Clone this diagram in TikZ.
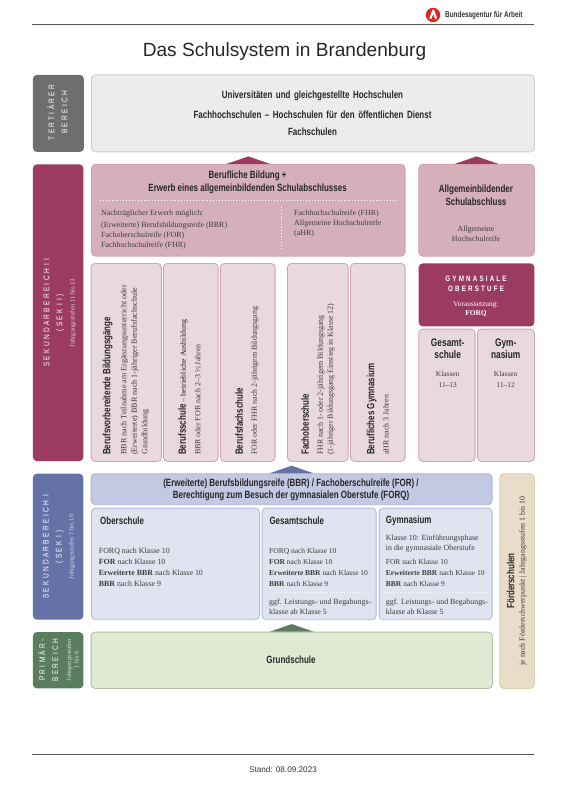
\documentclass[tikz,border=0pt]{standalone}
\usepackage{fontspec}
\usepackage{xcolor}
\setmainfont{Liberation Serif}
\newfontfamily\titlefont{Liberation Sans}
\newfontfamily\headfont[FakeStretch=0.76]{Liberation Sans}
\newfontfamily\spacedfont[FakeStretch=0.8,LetterSpace=28]{Liberation Sans}
\definecolor{baline}{RGB}{85,85,85}
\definecolor{bared}{RGB}{218,40,30}
\definecolor{greydark}{RGB}{110,110,110}
\definecolor{greylight}{RGB}{236,236,236}
\definecolor{greyedge}{RGB}{205,205,205}
\definecolor{rosedark}{RGB}{156,59,96}
\definecolor{rosemid}{RGB}{213,176,186}
\definecolor{roselight}{RGB}{234,216,223}
\definecolor{roseedge}{RGB}{214,160,178}
\definecolor{bluedark}{RGB}{100,114,168}
\definecolor{bluemid}{RGB}{195,201,226}
\definecolor{bluelight}{RGB}{224,227,240}
\definecolor{blueedge}{RGB}{176,184,216}
\definecolor{greendark}{RGB}{90,125,95}
\definecolor{greenlight}{RGB}{224,234,211}
\definecolor{greenedge}{RGB}{170,192,160}
\definecolor{sandlight}{RGB}{233,220,201}
\definecolor{sandedge}{RGB}{226,206,176}
\definecolor{bodygrey}{RGB}{60,60,60}

\begin{document}
\begin{tikzpicture}[
		x=1pt, y=-1pt,
		schoolbox/.style={rounded corners=4pt, line width=0.8pt, inner sep=0pt, anchor=north west},
		sidebox/.style={schoolbox, draw=none, text=white},
		headtext/.style={inner sep=0pt, align=center, text=black!85,
			font=\headfont\bfseries\fontsize{10.5}{12.7}\selectfont},
		bodytext/.style={inner sep=0pt, align=left, anchor=north west, text=bodygrey,
			font=\fontsize{7.9}{10}\selectfont},
		spacedtext/.style={inner sep=0pt, align=center, text=white, rotate=90,
			font=\spacedfont\fontsize{8.2}{13}\selectfont},
		stufentext/.style={inner sep=0pt, align=center, text=white!85!black, rotate=90,
			font=\fontsize{6.6}{7.5}\selectfont},
		whitedots/.style={white, line width=0.9pt, dotted}
	]
	\useasboundingbox (0,0) rectangle (566,794);
	% head and foot of the page
	\coordinate (headl) at (32,25);
	\coordinate (headr) at (534,25);
	\coordinate (footl) at (32,754.7);
	\coordinate (footr) at (534,754.7);
	\draw[baline, line width=1pt] (headl) -- (headr);
	\draw[baline, line width=1pt] (footl) -- (footr);
	\fill[bared] (433,15) circle (7.2);
	\fill[white] (429.2,18.6) -- (432.6,9.6) -- (434,9.6) -- (437.2,18.6) -- (434.8,18.6) -- (433.2,13.6) -- (431.6,18.6) -- cycle;
	\node[inner sep=0pt, anchor=west, text=black!80, font=\headfont\bfseries\fontsize{8.4}{10}\selectfont] (batext) at (445,15) {Bundesagentur für Arbeit};
	\node[inner sep=0pt, font=\titlefont\fontsize{19.1}{24}\selectfont, text=black!85] (title) at (284.5,52) {Das Schulsystem in Brandenburg};
	\node[inner sep=0pt, font=\titlefont\fontsize{8.2}{10}\selectfont, text=black!80] (stand) at (283,770) {Stand: 08.09.2023};

	% left column
	\node[sidebox, fill=greydark, minimum width=51pt, minimum height=77pt] (tertside) at (32.5,74.5) {};
	\node[sidebox, fill=rosedark, minimum width=50.5pt, minimum height=296.7pt] (sek2side) at (32.5,164) {};
	\node[sidebox, fill=bluedark, minimum width=50.5pt, minimum height=146pt] (sek1side) at (32.5,473.3) {};
	\node[sidebox, fill=greendark, minimum width=50.5pt, minimum height=56.3pt] (primside) at (32.5,631.7) {};
	\node[spacedtext] (terttext) at (57.5,112.5) {TERTIÄRER\\BEREICH};
	\node[spacedtext] (sek2text) at (53.8,313) {SEKUNDARBEREICH II\\(SEK II)};
	\node[stufentext] (sek2stufe) at (73,313) {Jahrgangsstufen 11 bis 13};
	\node[spacedtext] (sek1text) at (53,547) {SEKUNDARBEREICH I\\(SEK I)};
	\node[stufentext] (sek1stufe) at (72,547) {Jahrgangsstufen 7 bis 10};
	\node[spacedtext] (primtext) at (48.3,660) {PRIMÄR-\\BEREICH};
	\node[stufentext] (primstufe) at (72.5,660) {Jahrgangsstufen\\1 bis 6};

	% main boxes
	\node[schoolbox, draw=greyedge, fill=greylight, minimum width=443pt, minimum height=77pt] (tertbox) at (91,74.5) {};
	\node[schoolbox, draw=roseedge, fill=rosemid, minimum width=313.7pt, minimum height=91.7pt] (berufbox) at (91,164) {};
	\node[schoolbox, draw=roseedge, fill=rosemid, minimum width=115.7pt, minimum height=91.7pt] (allgbox) at (418.3,164) {};
	\node[schoolbox, draw=roseedge, fill=roselight, minimum width=70.3pt, minimum height=198pt] (vorbbox) at (90.7,263) {};
	\node[schoolbox, draw=roseedge, fill=roselight, minimum width=54.7pt, minimum height=198pt] (berufsbox) at (163,263) {};
	\node[schoolbox, draw=roseedge, fill=roselight, minimum width=54.7pt, minimum height=198pt] (fachbox) at (220,263) {};
	\node[schoolbox, draw=roseedge, fill=roselight, minimum width=60.7pt, minimum height=198pt] (fosbox) at (287,263) {};
	\node[schoolbox, draw=roseedge, fill=roselight, minimum width=54.7pt, minimum height=198pt] (bgymbox) at (350,263) {};
	\node[schoolbox, fill=rosedark, minimum width=115.7pt, minimum height=63pt] (oberbox) at (418.3,263) {};
	\node[schoolbox, draw=roseedge, fill=roselight, minimum width=56.4pt, minimum height=132.3pt] (gesobox) at (418.3,328.7) {};
	\node[schoolbox, draw=roseedge, fill=roselight, minimum width=57pt, minimum height=132.3pt] (gymobox) at (477,328.7) {};
	\node[schoolbox, draw=blueedge, fill=bluemid, minimum width=401pt, minimum height=31pt] (abschlbox) at (90.7,473.3) {};
	\node[schoolbox, draw=blueedge, fill=bluelight, minimum width=168pt, minimum height=111.6pt] (obsbox) at (91,507.7) {};
	\node[schoolbox, draw=blueedge, fill=bluelight, minimum width=114pt, minimum height=111.6pt] (gesbox) at (261.7,507.7) {};
	\node[schoolbox, draw=blueedge, fill=bluelight, minimum width=113pt, minimum height=111.6pt] (gymbox) at (378.7,507.7) {};
	\node[schoolbox, draw=greenedge, fill=greenlight, minimum width=401.3pt, minimum height=56.3pt] (grundbox) at (90.7,631.7) {};
	\node[schoolbox, draw=sandedge, fill=sandlight, minimum width=34.7pt, minimum height=214.7pt] (foerdbox) at (499.3,473.3) {};

	% small tips on the boxes
	\foreach \boxname/\tipcolor in {berufbox/rosedark, allgbox/rosedark, abschlbox/bluedark, grundbox/greendark}
		\fill[\tipcolor] ([xshift=-22pt]\boxname.north) -- ([yshift=7.6pt]\boxname.north) -- ([xshift=22pt]\boxname.north) -- cycle;

	% tertiary
	\node[headtext, text width=300pt, font=\headfont\bfseries\fontsize{10.5}{18}\selectfont] (terttitle) at (312.5,113) {Universitäten und gleichgestellte Hochschulen\\[2.5pt]Fachhochschulen – Hochschulen für den öffentlichen Dienst\\[-1pt]Fachschulen};

	% sek II top
	\node[headtext] (beruftitle) at (247.6,182.5) {Berufliche Bildung +\\Erwerb eines allgemeinbildenden Schulabschlusses};
	\coordinate (dotl) at (100,200);
	\coordinate (dotr) at (396,200);
	\coordinate (dott) at (281,207);
	\coordinate (dotb) at (281,248);
	\draw[whitedots] (dotl) -- (dotr);
	\draw[whitedots] (dott) -- (dotb);
	\node[bodytext] (nachtext) at (101,209.5) {Nachträglicher Erwerb möglich:\\[2.3pt](Erweiterte) Berufsbildungsreife (BBR)\\Fachoberschulreife (FOR)\\Fachhochschulreife (FHR)};
	\node[bodytext] (fhrtext) at (294,209.5) {Fachhochschulreife (FHR)\\Allgemeine Hochschulreife\\(aHR)};
	\node[headtext] (allgtitle) at (476,195.3) {Allgemeinbildender\\Schulabschluss};
	\node[bodytext, anchor=center, align=center] (allgtext) at (476,233.7) {Allgemeine\\Hochschulreife};

	% sek II columns
	\node[headtext, rotate=90, anchor=west] (vorbtitle) at (107.7,455) {Berufsvorbereitende Bildungsgänge};
	\node[bodytext, rotate=90, font=\fontsize{8.1}{10.5}\selectfont] (vorbtext) at (120.5,455) {BBR nach Teilnahme am Ergänzungsunterricht oder\\(Erweiterte) BBR nach 1-jähriger Berufsfachschule\\Grundbildung};
	\node[headtext, rotate=90, anchor=west] (berufstitle) at (183,455) {Berufsschule {\normalfont\fontsize{7.9}{10}\selectfont – betriebliche Ausbildung}};
	\node[bodytext, rotate=90, anchor=west] (berufstext) at (197.7,455) {BBR oder FOR nach 2–3 ½ Jahren};
	\node[headtext, rotate=90, anchor=west] (fachtitle) at (239,455) {Berufsfachschule};
	\node[bodytext, rotate=90, anchor=west] (fachtext) at (255,455) {FOR oder FHR nach 2-jährigem Bildungsgang};
	\node[headtext, rotate=90, anchor=west] (fostitle) at (305,455) {Fachoberschule};
	\node[bodytext, rotate=90] (fostext) at (317.2,455) {FHR nach 1- oder 2-jährigem Bildungsgang\\(1-jähriger Bildungsgang Einstieg in Klasse 12)};
	\node[headtext, rotate=90, anchor=west] (bgymtitle) at (371.7,455) {Berufliches Gymnasium};
	\node[bodytext, rotate=90, anchor=west] (bgymtext) at (386,455) {aHR nach 3 Jahren};

	% gymnasiale oberstufe
	\node[inner sep=0pt, align=center, text=white, font=\spacedfont\bfseries\fontsize{7.8}{9.4}\selectfont] (obertitle) at (476,284) {GYMNASIALE\\OBERSTUFE};
	\node[bodytext, anchor=center, align=center, text=white, font=\fontsize{7.4}{8.7}\selectfont] (obertext) at (476,309.3) {Voraussetzung:\\\textbf{FORQ}};
	\node[headtext, font=\headfont\bfseries\fontsize{11}{12}\selectfont] (gesotitle) at (447.7,349) {Gesamt-\\schule};
	\node[headtext, font=\headfont\bfseries\fontsize{11}{12}\selectfont] (gymotitle) at (505.7,349) {Gym-\\nasium};
	\node[bodytext, anchor=center, align=center, font=\fontsize{7.4}{11}\selectfont] (gesotext) at (447.7,379.5) {Klassen\\11–13};
	\node[bodytext, anchor=center, align=center, font=\fontsize{7.4}{11}\selectfont] (gymotext) at (505.7,379.5) {Klassen\\11–12};

	% sek I
	\node[headtext] (abschltitle) at (291,489.8) {(Erweiterte) Berufsbildungsreife (BBR) / Fachoberschulreife (FOR) /\\Berechtigung zum Besuch der gymnasialen Oberstufe (FORQ)};
	\node[headtext, anchor=west] (obstitle) at (100,521) {Oberschule};
	\node[headtext, anchor=west] (gestitle) at (269.3,521) {Gesamtschule};
	\node[headtext, anchor=west] (gymtitle) at (385.7,521) {Gymnasium};
	\node[bodytext, font=\fontsize{7.9}{11.1}\selectfont] (obstext) at (98.7,547.8) {FORQ nach Klasse 10\\\textbf{FOR} nach Klasse 10\\\textbf{Erweiterte BBR} nach Klasse 10\\\textbf{BBR} nach Klasse 9};
	\node[bodytext, font=\fontsize{7.5}{11.1}\selectfont] (gestext) at (269,547.8) {FORQ nach Klasse 10\\\textbf{FOR} nach Klasse 10\\\textbf{Erweiterte BBR} nach Klasse 10\\\textbf{BBR} nach Klasse 9};
	\node[bodytext] (gymkl) at (385.7,534.5) {Klasse 10: Einführungsphase\\in die gymnasiale Oberstufe};
	\node[bodytext, font=\fontsize{7.5}{11.1}\selectfont] (gymtext) at (385.7,559.3) {FOR nach Klasse 10\\\textbf{Erweiterte BBR} nach Klasse 10\\\textbf{BBR} nach Klasse 9};
	\coordinate (gesdotl) at (269,592.7);
	\coordinate (gesdotr) at (370,592.7);
	\coordinate (gymdotl) at (385,592.7);
	\coordinate (gymdotr) at (487,592.7);
	\draw[whitedots] (gesdotl) -- (gesdotr);
	\draw[whitedots] (gymdotl) -- (gymdotr);
	\node[bodytext] (gesggf) at (269,598.5) {ggf. Leistungs- und Begabungs-\\klasse ab Klasse 5};
	\node[bodytext] (gymggf) at (385.7,598.5) {ggf. Leistungs- und Begabungs-\\klasse ab Klasse 5};

	% primary and foerderschulen
	\node[headtext] (grundtitle) at (291,660) {Grundschule};
	\node[headtext, rotate=90] (foerdtitle) at (510.7,581) {Förderschulen};
	\node[bodytext, rotate=90, anchor=center, align=center] (foerdtext) at (523,581) {je nach Förderschwerpunkt | Jahrgangsstufen 1 bis 10};
\end{tikzpicture}
\end{document}
